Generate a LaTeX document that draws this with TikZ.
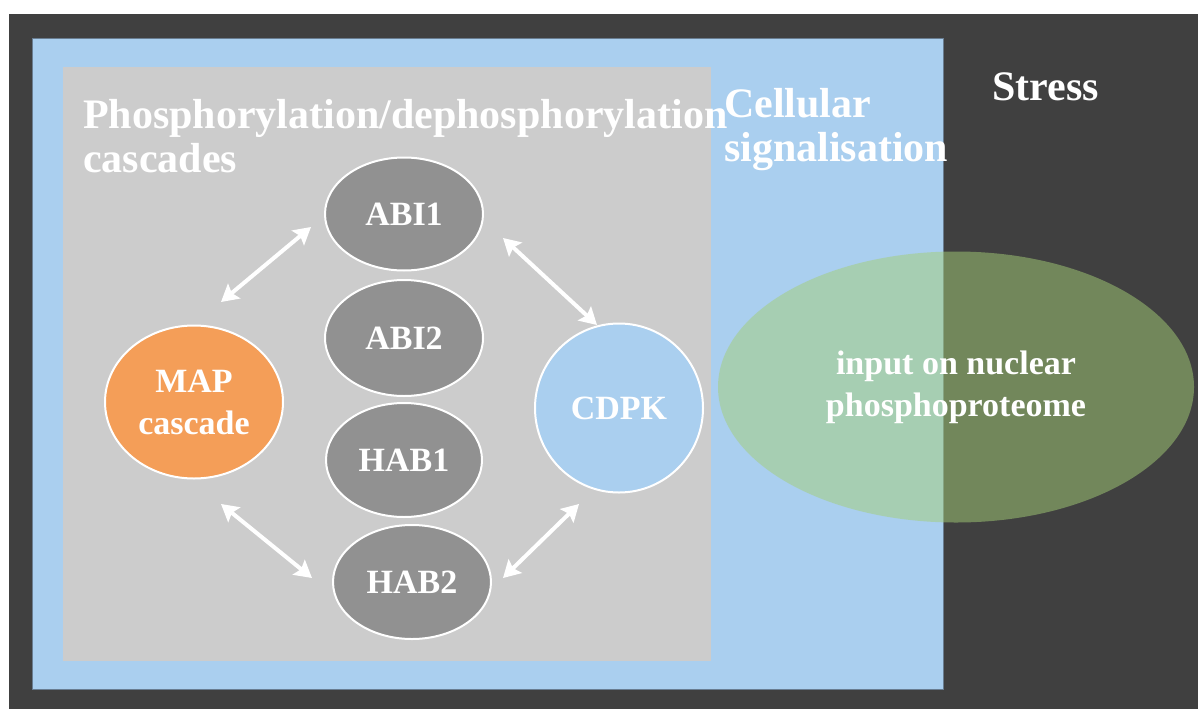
\documentclass[tikz,border=0pt]{standalone}
\usepackage{fontspec}
\setmainfont{Liberation Serif}
\usetikzlibrary{arrows.meta}
\usetikzlibrary{shapes.geometric}

\definecolor{stressgray}{RGB}{64,64,64}
\definecolor{cellblue}{RGB}{170,207,239}
\definecolor{frameblue}{RGB}{105,125,145}
\definecolor{cascgray}{RGB}{204,204,204}
\definecolor{phosgray}{RGB}{145,145,145}
\definecolor{maporange}{RGB}{244,158,88}
\definecolor{nucgreen}{RGB}{164,206,118}

\begin{document}
\begin{tikzpicture}[x=1pt,y=-1pt]
	\useasboundingbox (0,0) rectangle (1198,709);
	\fill[white] (0,0) rectangle (1198,709);
	\fill[stressgray] (9,14) rectangle (1198,709);
	\draw[frameblue,fill=cellblue] (32,38) rectangle (943,689);
	\fill[cascgray] (63,67) rectangle (711,661);

	% region titles (base = last line)
	\begin{scope}[every node/.style={text=white,inner sep=0pt,align=left,
	              font=\bfseries\fontsize{42}{44}\selectfont}]
		\node[anchor=base west] (stress) at (992,100) {Stress};
		\node[anchor=base west] (cell) at (724,161) {Cellular\\signalisation};
		\node[anchor=base west] (casc) at (83,172) {Phosphorylation/dephosphorylation\\cascades};
	\end{scope}

	\node[ellipse,fill=nucgreen,fill opacity=0.5,text opacity=1,text=white,
	      minimum width=476pt,minimum height=271pt,align=center,
	      font=\bfseries\fontsize{34}{42}\selectfont] (nuc) at (956,387)
	      {input on nuclear\\phosphoproteome};

	\begin{scope}[every node/.style={ellipse,draw=white,line width=2pt,text=white,
	              inner sep=0pt,align=center,font=\bfseries\fontsize{34}{42}\selectfont}]
		\node[fill=phosgray,minimum width=158pt,minimum height=113pt] (abi1) at (404,214) {ABI1};
		\node[fill=phosgray,minimum width=158pt,minimum height=116pt] (abi2) at (404,338) {ABI2};
		\node[fill=phosgray,minimum width=156pt,minimum height=114pt] (hab1) at (404,460) {HAB1};
		\node[fill=phosgray,minimum width=158pt,minimum height=114pt] (hab2) at (412,582) {HAB2};
		\node[fill=maporange,minimum width=178pt,minimum height=153pt] (map) at (194,402) {MAP\\cascade};
		\node[fill=cellblue,minimum width=168pt,minimum height=169pt] (cdpk) at (619,408) {CDPK};
	\end{scope}

	% arrow ends beside the nodes
	\coordinate (mapN) at (221,302);
	\coordinate (abiW) at (311,227);
	\coordinate (abiE) at (503,238);
	\coordinate (cdpkN) at (597,325);
	\coordinate (mapS) at (221,504);
	\coordinate (habW) at (312,578);
	\coordinate (habE) at (503,578);
	\coordinate (cdpkS) at (579,504);

	\begin{scope}[>={Stealth[length=17pt,width=19pt,inset=3pt]},
	              every edge/.style={draw=white,line width=4pt,<->}]
		\path (mapN) edge (abiW);
		\path (abiE) edge (cdpkN);
		\path (mapS) edge (habW);
		\path (habE) edge (cdpkS);
	\end{scope}
\end{tikzpicture}
\end{document}
